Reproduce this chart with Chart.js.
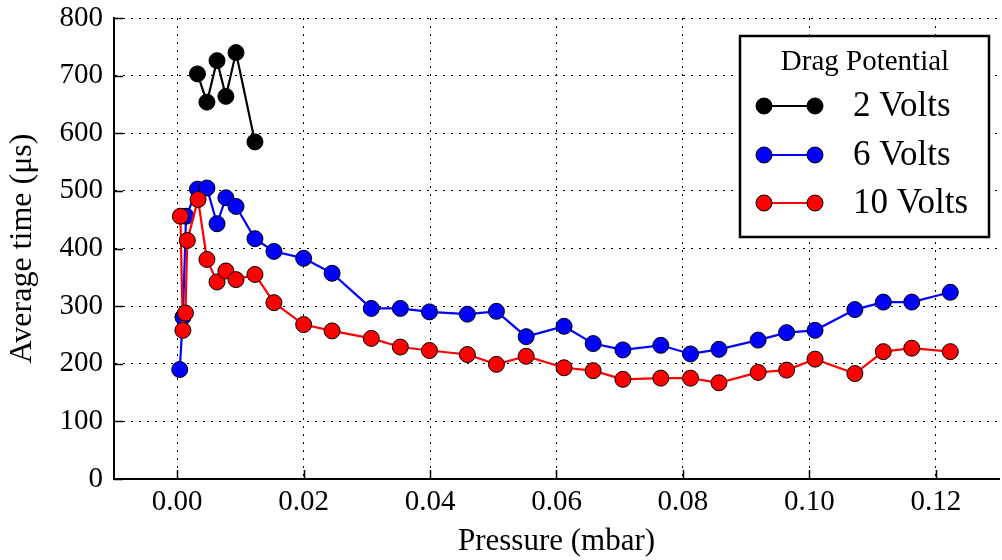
<!DOCTYPE html>
<html>
<head>
<meta charset="utf-8">
<script src="https://cdn.jsdelivr.net/npm/chart.js@4.4.1/dist/chart.umd.min.js"></script>
<style>
  html, body { margin: 0; padding: 0; background: #fff; overflow: hidden; }
  #wrap { width: 1002px; height: 560px; overflow: hidden; position: relative; }
  canvas { display: block; }
</style>
</head>
<body>
<div id="wrap"><canvas id="chart" width="1008" height="560"></canvas></div>
<script>
// Average drift time versus chamber pressure for three drag potentials
const seriesNames = ['2 Volts', '6 Volts', '10 Volts'];

const pressure2 = [0.0032, 0.0047, 0.0063, 0.0077, 0.0093, 0.0123];
const time2     = [703, 654, 726, 664, 740, 585];

const pressure6 = [0.0004, 0.0009, 0.0014, 0.0032, 0.0047, 0.0063, 0.0077, 0.0093, 0.0123, 0.0153,
                   0.0200, 0.0245, 0.0307, 0.0353, 0.0399, 0.0459, 0.0505, 0.0552, 0.0612, 0.0658,
                   0.0705, 0.0765, 0.0812, 0.0857, 0.0919, 0.0964, 0.1009, 0.1072, 0.1117, 0.1162,
                   0.1223];
const time6     = [190, 281, 456, 503, 505, 443, 488, 473, 417, 395,
                   383, 357, 296, 296, 290, 286, 291, 247, 265, 235,
                   224, 232, 217, 225, 241, 254, 258, 294, 307, 307,
                   324];

const pressure10 = [0.0005, 0.0009, 0.0013, 0.0016, 0.0033, 0.0047, 0.0063, 0.0077, 0.0093, 0.0123,
                    0.0153, 0.0200, 0.0245, 0.0307, 0.0353, 0.0399, 0.0459, 0.0505, 0.0552, 0.0612,
                    0.0658, 0.0705, 0.0765, 0.0812, 0.0857, 0.0919, 0.0964, 0.1009, 0.1072, 0.1117,
                    0.1162, 0.1223];
const time10     = [456, 258, 288, 414, 485, 381, 342, 361, 346, 355,
                    306, 268, 257, 244, 229, 223, 216, 199, 213, 193,
                    188, 173, 175, 175, 167, 185, 189, 208, 183, 221,
                    227, 221];

const xTicks = [0.00, 0.02, 0.04, 0.06, 0.08, 0.10, 0.12];
const yTicks = [0, 100, 200, 300, 400, 500, 600, 700, 800];

const FONT = 'Liberation Serif';
const toPoints = (xs, ys) => xs.map((x, i) => ({ x: x, y: ys[i] }));

function series(label, xs, ys, color, order) {
  return {
    label: label,
    data: toPoints(xs, ys),
    borderColor: color,
    backgroundColor: color,
    pointBackgroundColor: color,
    pointBorderColor: '#000',
    pointBorderWidth: 1,
    pointRadius: 8,
    pointHoverRadius: 8,
    borderWidth: 2.2,
    tension: 0,
    order: order
  };
}

// Inward tick marks on the left and bottom spines
const inwardTicks = {
  id: 'inwardTicks',
  beforeDatasetsDraw(chart) {
    const { ctx, chartArea: a, scales: { x, y } } = chart;
    ctx.save();
    ctx.strokeStyle = '#000';
    ctx.lineWidth = 1.5;
    ctx.beginPath();
    x.ticks.forEach(t => {
      const px = Math.round(x.getPixelForValue(t.value)) + 0.5;
      ctx.moveTo(px, a.bottom);
      ctx.lineTo(px, a.bottom - 9);
    });
    y.ticks.forEach(t => {
      const py = Math.round(y.getPixelForValue(t.value)) + 0.5;
      ctx.moveTo(a.left, py);
      ctx.lineTo(a.left + 9, py);
    });
    ctx.stroke();
    ctx.restore();
  }
};

// Boxed legend with a title, drawn inside the plot area
const boxedLegend = {
  id: 'boxedLegend',
  afterDatasetsDraw(chart) {
    const ctx = chart.ctx;
    const box = { left: 740, top: 36, right: 989, bottom: 237 };
    const rows = [106, 155, 203];
    ctx.save();
    ctx.fillStyle = '#fff';
    ctx.fillRect(box.left, box.top, box.right - box.left, box.bottom - box.top);
    ctx.strokeStyle = '#000';
    ctx.lineWidth = 2.5;
    ctx.strokeRect(box.left, box.top, box.right - box.left, box.bottom - box.top);

    ctx.fillStyle = '#000';
    ctx.textAlign = 'center';
    ctx.textBaseline = 'middle';
    ctx.font = '29px "' + FONT + '"';
    ctx.fillText('Drag Potential', 865, 62);

    chart.data.datasets.forEach((ds, i) => {
      const yy = rows[i];
      ctx.strokeStyle = ds.borderColor;
      ctx.lineWidth = 2.2;
      ctx.beginPath();
      ctx.moveTo(764, yy);
      ctx.lineTo(815, yy);
      ctx.stroke();
      [764, 815].forEach(cx => {
        ctx.beginPath();
        ctx.arc(cx, yy, 8, 0, Math.PI * 2);
        ctx.fillStyle = ds.pointBackgroundColor;
        ctx.fill();
        ctx.lineWidth = 1;
        ctx.strokeStyle = '#000';
        ctx.stroke();
      });
      ctx.fillStyle = '#000';
      ctx.textAlign = 'left';
      ctx.font = '35px "' + FONT + '"';
      ctx.fillText(ds.label, 853, yy + 1);
    });
    ctx.restore();
  }
};

new Chart(document.getElementById('chart'), {
  type: 'line',
  data: {
    datasets: [
      series(seriesNames[0], pressure2, time2, '#000000', 2),
      series(seriesNames[1], pressure6, time6, '#0000ff', 1),
      series(seriesNames[2], pressure10, time10, '#ff0000', 0)
    ]
  },
  options: {
    responsive: false,
    animation: false,
    devicePixelRatio: 1,
    layout: { padding: { left: 0, right: 2, top: 18, bottom: 0 } },
    plugins: { legend: { display: false }, tooltip: { enabled: false } },
    scales: {
      x: {
        type: 'linear',
        min: -0.01,
        max: 0.13,
        afterBuildTicks: s => { s.ticks = xTicks.map(v => ({ value: v })); },
        afterFit: s => { s.height = 81; s.paddingLeft = 0; s.paddingRight = 0; },
        grid: { color: '#000', lineWidth: 1, drawTicks: false },
        border: { display: true, color: '#000', width: 2, dash: [2, 6] },
        ticks: {
          color: '#000', padding: 6, autoSkip: false, maxRotation: 0,
          font: { family: FONT, size: 29 },
          callback: v => Number(v).toFixed(2)
        },
        title: {
          display: true, text: 'Pressure (mbar)', color: '#000',
          font: { family: FONT, size: 31 }, padding: { top: 0, bottom: 0 }
        }
      },
      y: {
        type: 'linear',
        min: 0,
        max: 800,
        afterBuildTicks: s => { s.ticks = yTicks.map(v => ({ value: v })); },
        afterFit: s => { s.width = 114; s.paddingTop = 0; s.paddingBottom = 0; },
        grid: { color: '#000', lineWidth: 1, drawTicks: false },
        border: { display: true, color: '#000', width: 2, dash: [2, 6] },
        ticks: {
          color: '#000', padding: 11,
          font: { family: FONT, size: 29 },
          callback: v => String(v)
        },
        title: {
          display: true, text: 'Average time (μs)', color: '#000',
          font: { family: FONT, size: 32 }, padding: { top: 3, bottom: 0 }
        }
      }
    }
  },
  plugins: [inwardTicks, boxedLegend]
});
</script>
</body>
</html>
